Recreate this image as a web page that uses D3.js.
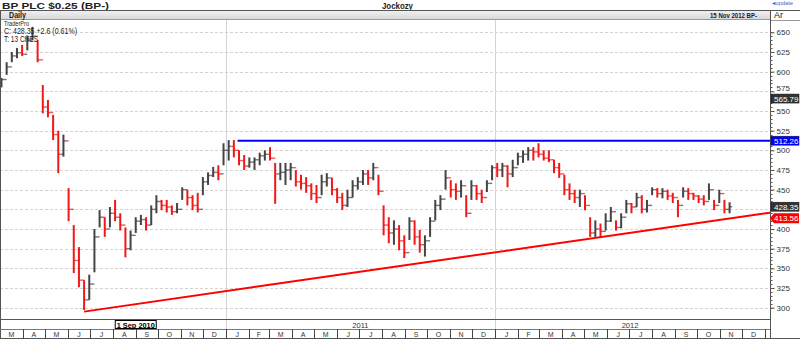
<!DOCTYPE html>
<html><head><meta charset="utf-8">
<script src="https://cdn.jsdelivr.net/npm/d3@7"></script>
<style>
body{margin:0;background:#fff;}
svg{display:block;font-family:"Liberation Sans",Arial,sans-serif;}
</style></head>
<body>
<svg id="c" width="800" height="339"></svg>
<script>
// ---- data (weekly bars, weeks starting Mon 1 Mar 2010) ----
const weekClose = [590,606,620,624,622,640,645,615,555,548,
520,495,512,425,360,335,310,330,390,415,
400,420,415,405,375,392,410,412,405,425,
435,430,428,422,425,450,440,430,425,460,
468,472,470,500,505,500,487,480,485,488,
493,495,490,470,472,475,478,460,458,455,
445,440,460,465,450,440,430,440,455,460,
470,465,478,448,405,395,400,385,370,410,
390,380,385,410,430,438,465,450,448,455,
420,455,445,440,458,478,475,480,470,478,
492,495,500,498,495,490,488,478,470,450,
445,440,445,430,395,400,397,410,422,402,
415,432,428,440,425,430,450,445,448,442,
440,430,448,445,442,438,435,450,430,445,
425,428.35];
const weekHigh = [592,612,625,630,634,646,657,640,583,564,
545,525,520,452,405,377,335,342,400,424,
415,428,437,420,402,398,415,418,415,430,
443,437,437,430,433,453,450,443,446,466,
472,479,481,509,513,513,500,494,491,491,
497,500,504,484,484,484,484,475,469,466,
458,456,469,471,465,452,446,450,462,466,
475,475,484,469,430,415,411,405,392,415,
411,399,392,415,437,443,475,462,458,462,
443,462,456,450,462,481,484,484,481,488,
497,500,504,504,509,500,500,488,484,469,
458,450,450,443,415,411,407,420,428,411,
420,437,433,446,443,437,453,452,452,450,
446,437,453,452,446,443,443,458,437,450,
437,434];
const weekLow = [580,596,612,617,620,627,640,612,547,542,
513,471,492,410,344,326,297,310,345,402,
390,402,410,398,364,373,395,405,398,405,
420,424,421,418,420,437,430,424,421,443,
456,466,462,481,487,491,481,475,478,475,
481,487,487,432,462,456,462,454,450,446,
437,433,443,454,443,433,424,428,440,450,
456,456,462,443,392,382,380,373,363,386,
380,370,365,390,411,424,450,440,437,440,
415,437,437,433,447,462,466,466,453,466,
481,484,487,487,491,487,485,471,465,443,
437,433,428,424,390,390,390,398,409,398,
401,420,420,428,420,421,443,440,439,437,
433,415,440,437,437,433,430,437,424,433,
420,420];
const firstWeek = "2010-03-01";
const yTicks = [300,325,350,375,400,425,450,475,500,525,550,575,600,625,650];
const hiddenTickLabels = [425];
const monthLabels = ["J","F","M","A","M","J","J","A","S","O","N","D"];
const yearLabels = ["2011","2012"];
const trendPts = [["2010-06-23",295],["2012-11-15",413.56]];
const resistance = {from:"2011-01-17", value:512.26};
const priceTags = [
  {value:565.79, text:"565.79", fill:"#333"},
  {value:512.26, text:"512.26", fill:"#0000ff"},
  {value:428.35, text:"428.35", fill:"#333"},
  {value:413.56, text:"413.56", fill:"#ff0000", arrow:true}
];
const titleText = "BP PLC $0.25 (BP-)";
const authorText = "Jockozy";
const dateText = "15 Nov 2012  BP-";
const infoLines = ["TraderPro","C: 428.35 +2.6 (0.61%)","T: 13 CHES"];
const crossDate = "2010-09-01";

// ---- layout ----
const svg = d3.select("#c");
const P = {l:0, r:770, t:20, b:319};
const parse = d3.timeParse("%Y-%m-%d");
const x = d3.scaleTime().domain([new Date(2010,2,1), new Date(2013,0,1)]).range([0,765]);
const y = d3.scaleLinear().domain([300,650]).range([307.7,32.3]);

svg.append("rect").attr("width",800).attr("height",339).attr("fill","#fff");

function txt(g, s, o){
  const t = g.append("text").attr("x",o.x).attr("y",o.y).attr("font-size",o.size)
    .attr("fill",o.fill||"#222").text(s);
  if(o.bold) t.attr("font-weight","bold");
  if(o.anchor) t.attr("text-anchor",o.anchor);
  if(o.len) t.attr("textLength",o.len).attr("lengthAdjust","spacingAndGlyphs");
  return t;
}

// header
txt(svg, titleText, {x:2, y:8.5, size:9.5, bold:true, len:107});
txt(svg, authorText, {x:382, y:8.5, size:9, bold:true, len:31});
txt(svg, "\u25C2update", {x:772, y:5, size:5.5, fill:"#36c", len:21});

const hg = svg.append("defs").append("linearGradient").attr("id","hg").attr("x1",0).attr("x2",0).attr("y1",0).attr("y2",1);
hg.append("stop").attr("offset",0).attr("stop-color","#f2f2f2");
hg.append("stop").attr("offset",1).attr("stop-color","#d6d6d6");
svg.append("rect").attr("x",0).attr("y",10).attr("width",770).attr("height",10).attr("fill","url(#hg)");
svg.append("line").attr("x1",0).attr("x2",800).attr("y1",10.5).attr("y2",10.5).attr("stroke","#555");
svg.append("line").attr("x1",0).attr("x2",770).attr("y1",19.5).attr("y2",19.5).attr("stroke","#999");
txt(svg, "Daily", {x:9, y:18, size:8.5, bold:true, len:17});
txt(svg, dateText, {x:710, y:17.5, size:7.5, bold:true, len:47});
txt(svg, "Ar", {x:774, y:18, size:8.5, len:9});

// grid
const grid = svg.append("g");
grid.selectAll("line.h").data(yTicks).join("line")
  .attr("x1",P.l).attr("x2",P.r).attr("y1",d=>Math.round(y(d))+0.5).attr("y2",d=>Math.round(y(d))+0.5)
  .attr("stroke","#d9d2d2").attr("stroke-dasharray","3,2");
const years = d3.timeYear.range(new Date(2011,0,1), new Date(2013,0,1));
grid.selectAll("line.v").data(years).join("line")
  .attr("x1",d=>Math.round(x(d))+0.5).attr("x2",d=>Math.round(x(d))+0.5).attr("y1",P.t).attr("y2",329)
  .attr("stroke","#d4d4d4");

// bars
const bars = weekClose.map((c,i)=>({
  date:d3.timeDay.offset(parse(firstWeek),7*i+2),
  open: i>0 ? weekClose[i-1] : c, high:weekHigh[i], low:weekLow[i], close:c
}));
svg.append("clipPath").attr("id","pc").append("rect").attr("x",0).attr("y",P.t).attr("width",P.r).attr("height",P.b-P.t);
const bg = svg.append("g").attr("clip-path","url(#pc)");
const col = d=> d.close>=d.open ? "#444" : "#f01818";
const hw = (x(new Date(2010,2,8))-x(new Date(2010,2,1)))/2;
const bar = bg.selectAll("g.bar").data(bars).join("g");
bar.append("line").attr("x1",d=>x(d.date)).attr("x2",d=>x(d.date))
  .attr("y1",d=>y(d.high)).attr("y2",d=>y(d.low)).attr("stroke",col).attr("stroke-width",2);
bar.append("line").attr("x1",d=>x(d.date)-hw).attr("x2",d=>x(d.date))
  .attr("y1",d=>y(d.open)).attr("y2",d=>y(d.open)).attr("stroke",col).attr("stroke-width",1.4).attr("opacity",0.75);
bar.append("line").attr("x1",d=>x(d.date)).attr("x2",d=>x(d.date)+hw)
  .attr("y1",d=>y(d.close)).attr("y2",d=>y(d.close)).attr("stroke",col).attr("stroke-width",1.4).attr("opacity",0.75);

// trend line (extended to right edge)
const t0 = {d:parse(trendPts[0][0]), v:trendPts[0][1]}, t1 = {d:parse(trendPts[1][0]), v:trendPts[1][1]};
const slope = (t1.v - t0.v)/(x(t1.d)-x(t0.d));
bg.append("line").attr("x1",x(t0.d)).attr("y1",y(t0.v))
  .attr("x2",P.r).attr("y2",y(t0.v + slope*(P.r - x(t0.d))))
  .attr("stroke","#ff0000").attr("stroke-width",2);
bg.append("line").attr("x1",x(parse(resistance.from))).attr("x2",P.r)
  .attr("y1",y(resistance.value)).attr("y2",y(resistance.value))
  .attr("stroke","#0000ff").attr("stroke-width",2);

// info text
const info = svg.append("g");
txt(info, infoLines[0], {x:4, y:25.5, size:7, len:25});
txt(info, infoLines[1], {x:4, y:33.5, size:8.5, len:73});
txt(info, infoLines[2], {x:4, y:42, size:8.5, len:34});

// frame
svg.append("line").attr("x1",0.5).attr("x2",0.5).attr("y1",10).attr("y2",339).attr("stroke","#555");
svg.append("line").attr("x1",P.r+0.5).attr("x2",P.r+0.5).attr("y1",10).attr("y2",339).attr("stroke","#555");
svg.append("line").attr("x1",0).attr("x2",P.r).attr("y1",319.5).attr("y2",319.5).attr("stroke","#555");
svg.append("line").attr("x1",0).attr("x2",P.r).attr("y1",329.5).attr("y2",329.5).attr("stroke","#777");
svg.append("line").attr("x1",0).attr("x2",800).attr("y1",338.5).attr("y2",338.5).attr("stroke","#555");
svg.append("line").attr("x1",P.r).attr("x2",800).attr("y1",20.5).attr("y2",20.5).attr("stroke","#999");

// right axis
const ax = svg.append("g").attr("transform",`translate(${P.r+0.5},0)`);
const minor = d3.range(300,651,5);
ax.selectAll("line.mn").data(minor).join("line").attr("x1",0).attr("x2",2)
  .attr("y1",d=>Math.round(y(d))+0.5).attr("y2",d=>Math.round(y(d))+0.5).attr("stroke","#555");
const yAxis = d3.axisRight(y).tickValues(yTicks).tickSize(4).tickPadding(2)
  .tickFormat(d=> hiddenTickLabels.includes(d) ? "" : d3.format("d")(d));
const ya = svg.append("g").attr("transform",`translate(${P.r+0.5},0)`).call(yAxis);
ya.select(".domain").attr("stroke","#555").attr("d",`M0,${P.t}V339`);
ya.selectAll(".tick line").attr("stroke","#555");
ya.selectAll(".tick text").attr("font-size",8).attr("fill","#333").attr("font-family","Liberation Sans, Arial, sans-serif")
  .attr("dy",d=> d===575 ? "-0.05em" : "0.32em");

// price tags
const tg = svg.append("g");
priceTags.forEach(t=>{
  const yy = y(t.value);
  if(t.arrow){
    tg.append("path").attr("d",`M${P.r},${yy} L${P.r+4},${yy-5} H799 V${yy+5} H${P.r+4} Z`).attr("fill",t.fill);
  } else {
    tg.append("rect").attr("x",P.r+1).attr("y",yy-4.5).attr("width",28).attr("height",9).attr("fill",t.fill).attr("stroke","#111").attr("stroke-width",0.5);
  }
  tg.append("text").attr("x",P.r+4).attr("y",yy+3).attr("font-size",8).attr("fill","#fff").text(t.text);
});

// year row
const yr = svg.append("g");
yr.selectAll("text").data(years).join("text")
  .attr("x",(d,i)=>(x(d)+x(d3.timeYear.offset(d,1)))/2).attr("y",327.5)
  .attr("text-anchor","middle").attr("font-size",7.5).attr("fill","#333").text((d,i)=>yearLabels[i]);

// crosshair date box
const cx = x(parse(crossDate));
svg.append("rect").attr("x",cx-20.5).attr("y",320.5).attr("width",41).attr("height",8).attr("fill","#fff").attr("stroke","#000");
svg.append("text").attr("x",cx).attr("y",327.5).attr("text-anchor","middle").attr("font-size",7.5).attr("font-weight","bold").attr("fill","#000")
  .attr("textLength",38).attr("lengthAdjust","spacingAndGlyphs").text(d3.timeFormat("%-d %b %Y")(parse(crossDate)));

// month row
const months = d3.timeMonth.range(new Date(2010,2,1), new Date(2013,0,1));
const mr = svg.append("g");
mr.selectAll("line").data(months.slice(1).concat([new Date(2013,0,1)])).join("line")
  .attr("x1",d=>Math.round(x(d))+0.5).attr("x2",d=>Math.round(x(d))+0.5).attr("y1",329).attr("y2",339).attr("stroke","#444");
mr.selectAll("text").data(months).join("text")
  .attr("x",d=>(x(d)+x(d3.timeMonth.offset(d,1)))/2).attr("y",337)
  .attr("text-anchor","middle").attr("font-size",7).attr("fill","#333").text(d=>monthLabels[d.getMonth()]);
</script>
</body></html>
